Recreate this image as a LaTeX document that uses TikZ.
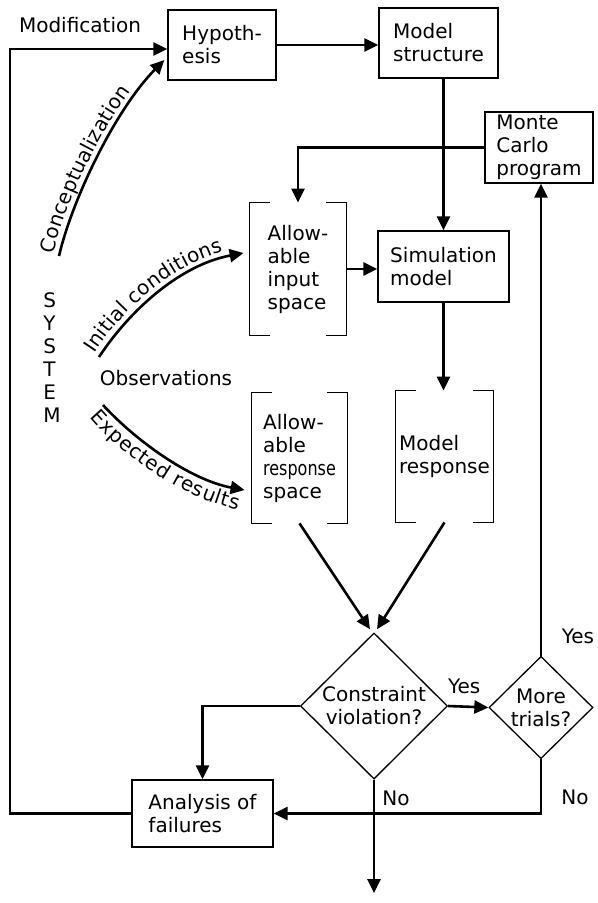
\documentclass[tikz,border=0pt]{standalone}
\usepackage{fontspec}
\setmainfont{DejaVu Sans}
\newfontfamily\narrowfont[FakeStretch=0.8]{DejaVu Sans}
\usepackage{tikz}
\usetikzlibrary{arrows.meta, shapes.geometric, decorations.text, calc}
\tikzset{
  txt/.style={font=\fontsize{10}{11.5}\selectfont, align=left, inner sep=0pt},
  box/.style={txt, draw, line width=0.65pt},
  brk/.style={txt},
  dmd/.style={txt, draw, diamond, align=center, inner sep=0.5pt, line width=0.65pt},
  sz/.style 2 args={minimum width=#1, minimum height=#2},
  flow/.style={line width=1.3pt, -{Triangle[length=7pt,width=6.5pt]}},
}

\begin{document}
\begin{tikzpicture}[x=0.5pt, y=-0.5pt]
\useasboundingbox (0,0) rectangle (598,903);
% boxes
\node[box, sz={54pt}{35pt}] (hyp) at (222,45) {Hypoth-\\esis};
\node[box, sz={59.5pt}{35pt}] (mstruct) at (438.5,43) {Model\\structure};
\node[box, sz={54pt}{35.5pt}] (mc) at (539,147.5) {Monte\\Carlo\\program};
\node[brk, sz={48pt}{66pt}] (ainp) at (298,269) {Allow-\\able\\input\\space};
\node[box, sz={65.5pt}{35.5pt}] (sim) at (443.5,266.5) {Simulation\\model};
\node[brk, sz={47.5pt}{65pt}] (aresp) at (299.5,458) {Allow-\\able\\{\narrowfont response}\\space};
\node[brk, sz={48.5pt}{65.5pt}] (mresp) at (444.5,456.5) {Model\\response};
\node[dmd, sz={73.5pt}{71.5pt}] (cv) at (374,706) {Constraint\\violation?};
\node[dmd, sz={52pt}{50.5pt}] (mt) at (541,707.5) {More\\trials?};
\node[box, sz={70.5pt}{33.5pt}] (af) at (202.5,813.5) {Analysis of\\failures};
% open brackets round the spaces
\foreach \n in {ainp, aresp, mresp}
  \draw[line width=0.65pt] ([xshift=10pt]\n.north west) -- (\n.north west) -- (\n.south west) -- ([xshift=10pt]\n.south west)
    ([xshift=-10pt]\n.north east) -- (\n.north east) -- (\n.south east) -- ([xshift=-10pt]\n.south east);
% free labels
\node[txt] (sys) at (52,358) {\fontsize{10}{11.3}\selectfont S\\Y\\S\\T\\E\\M};
\node[txt] (modlbl) at (80,25) {Modification};
\node[txt] (obs) at (166,378) {Observations};
% system arrows
\coordinate (cs) at (59,256);
\coordinate (is) at (99,357);
\coordinate (es) at (103,405);
\draw[flow] (cs) .. controls (72,200) and (115,110) .. ($(hyp.west)+(-3,15)$);
\path[decorate, decoration={text along path, text={Conceptualization}, text align=left, raise=3pt}] (cs) .. controls (72,200) and (115,110) .. ($(hyp.west)+(-3,15)$);
\draw[flow] (is) .. controls (130,310) and (180,265) .. ($(ainp.west)+(-6,-16)$);
\path[decorate, decoration={text along path, text={Initial conditions}, text align=left, raise=3pt}] (is) .. controls (130,310) and (180,265) .. ($(ainp.west)+(-6,-16)$);
\draw[flow] (es) .. controls (135,440) and (190,480) .. ($(aresp.west)+(-7,32)$);
\path[decorate, decoration={text along path, text={Expected results}, text align=left, raise=-9pt}] (es) .. controls (135,442) and (195,488) .. (262,496);
% main flow
\coordinate (lft) at (10,49);
\draw[flow] (af.west) -| (lft) -- (lft -| hyp.west);
\draw[flow] (hyp.east) -- (hyp.east -| mstruct.west);
\draw[flow] (sim.north |- mstruct.south) -- (sim.north);
\draw[flow] (mc.west) -| (ainp.north);
\draw[flow] (ainp.east) -- (ainp.east -| sim.west);
\draw[flow] (sim.south) -- (sim.south |- mresp.north);
\draw[flow] (aresp.south) -- ([shift={(-4,-3)}]cv.north);
\draw[flow] (mresp.south) -- ([shift={(3,-3)}]cv.north);
% decisions
\draw[flow] (cv.east) -- (mt.west) node[txt, pos=0.4, above=6pt] (y1) {Yes};
\draw[flow] (mt.north) -- (mt.north |- mc.south);
\node[txt] (y2) at (578,636) {Yes};
\draw[flow] (mt.south) |- (af.east);
\node[txt] (n2) at (575,797) {No};
\coordinate (out) at (374,893);
\draw[flow] (cv.south) -- (out);
\node[txt] (n1) at (396,798) {No};
\draw[flow] (cv.west) -| (af.north);
\end{tikzpicture}
\end{document}
